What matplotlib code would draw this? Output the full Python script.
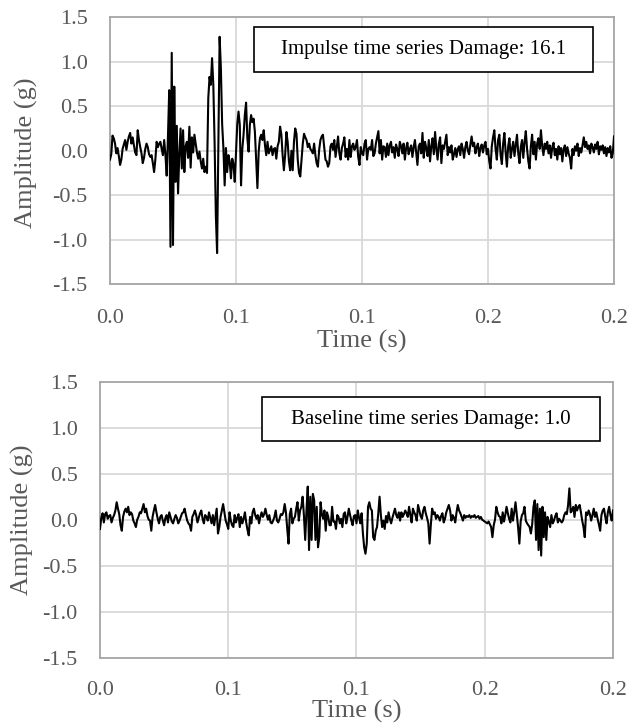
import matplotlib
matplotlib.use('Agg')
import matplotlib.pyplot as plt
import numpy as np
from matplotlib.patches import Rectangle

# ---------------- data ----------------
duration = 0.2  # seconds, both records

impulse_amp = [
    -0.10, -0.04, 0.17, 0.14, 0.08, -0.03, 0.03, -0.06, -0.16, -0.10,
    0.02, 0.07, 0.12, 0.01, 0.10, 0.16, 0.20, 0.08, 0.15, 0.06,
    -0.02, -0.05, 0.23, 0.12, 0.04, -0.03, -0.14, -0.08, 0.02, 0.08,
    0.04, -0.04, -0.07, -0.05, -0.14, -0.24, -0.10, 0.10, 0.04, 0.08,
    0.10, 0.02, -0.05, 0.12, -0.05, -0.28, 0.16,
    0.68, -1.08, 1.10, -1.06, 0.72, -0.35, 0.28, -0.48, -0.05,
    0.25, -0.20, 0.23, -0.24, 0.05, 0.10, -0.08, 0.27, -0.19, 0.15, -0.02,
    0.18, 0.08, -0.02, -0.09, -0.01, -0.12, -0.20, -0.09, -0.24, -0.18, -0.25,
    0.59, 0.83, 0.74, 1.04, 0.74, 0.10, -0.72, -1.15, 0.03, 1.28, 0.93,
    0.30, 0.03, -0.39, 0.03, -0.24, -0.05, -0.12, -0.31, -0.09, -0.15, -0.35,
    -0.01, 0.30, 0.44, 0.29, -0.39, 0.02, 0.18, 0.40, 0.54, 0.14, -0.01,
    0.29, 0.40, 0.32, 0.36, 0.21, -0.10, -0.42, -0.01, 0.14, 0.18, 0.12,
    0.23, 0.06, -0.05, 0.10, -0.03, 0.01, 0.05, -0.05, 0.02, 0.03, -0.09, 0.05,
    0.10, 0.27, 0.18, -0.05, -0.22, -0.05, 0.21, 0.10, -0.12, -0.22, 0.00, -0.22,
    0.10, 0.25, 0.19, -0.10, -0.25, -0.29, -0.10, 0.08, 0.19, 0.15, 0.12,
    0.04, 0.08, 0.02, 0.00, -0.03, 0.08, -0.05, -0.14, -0.18, 0.01, 0.12,
    0.16, 0.18, 0.04, -0.10, -0.12, -0.18, -0.14, 0.05, 0.08, 0.01, 0.12,
    -0.07, 0.05, 0.16, -0.03, -0.10, 0.03, 0.08, 0.15, -0.07, 0.02, -0.10,
    0.12, -0.07, 0.05, 0.08, 0.01, 0.04, 0.12, -0.07, -0.16, 0.04, -0.03,
    -0.05, 0.08, 0.12, -0.10, 0.02, 0.04, 0.01, 0.12, -0.06, -0.03,
    0.08, 0.15, 0.22, -0.03, 0.12, -0.10, 0.05, 0.04, -0.07, 0.08,
    -0.05, 0.06, 0.10, -0.02, 0.04, -0.08, 0.07, 0.02, -0.06, 0.10,
    0.05, -0.03, 0.08, -0.10, 0.03, 0.09, -0.04, 0.02, 0.06, -0.07,
    0.04, 0.12, -0.02, -0.16, 0.05, 0.08, -0.03, 0.20, -0.08, 0.10,
    0.03, -0.06, 0.12, -0.12, 0.05, 0.14, -0.04, 0.21, 0.02, -0.10,
    0.08, 0.15, -0.14, 0.06, 0.02, 0.10, 0.18, -0.05, 0.04, -0.02,
    0.06, -0.10, -0.04, 0.03, -0.07, 0.02, 0.05, -0.05, 0.08, 0.02,
    -0.08, 0.04, 0.10, 0.00, -0.04, 0.07, 0.16, 0.05, 0.09, -0.03,
    0.04, 0.08, -0.06, 0.03, 0.07, -0.02, 0.06, 0.10, -0.04, 0.02,
    -0.12, -0.20, 0.05, 0.15, 0.23, 0.02, -0.10, 0.12, 0.18, -0.05,
    -0.15, 0.08, 0.20, -0.02, -0.18, 0.05, 0.14, -0.08, 0.02, 0.10,
    -0.06, 0.06, 0.18, -0.03, -0.14, 0.04, 0.12, -0.08, 0.10, 0.22,
    0.02, -0.12, -0.20, 0.05, 0.18, -0.04, 0.10, -0.10, 0.08, 0.14,
    0.02, 0.23, 0.05, -0.05, 0.08, 0.02, 0.10, -0.03, 0.06, -0.08,
    0.04, 0.09, -0.05, 0.02, -0.10, 0.05, -0.04, 0.03, -0.12, 0.02,
    0.06, -0.06, 0.04, -0.03, -0.08, -0.20, 0.02, -0.05, 0.05, 0.00,
    0.08, -0.06, 0.03, -0.02, 0.06, 0.15, 0.04, 0.10, 0.02, 0.06,
    -0.03, 0.08, 0.04, -0.02, 0.07, 0.02, 0.10, -0.04, 0.05, 0.01,
    0.06, -0.03, 0.04, -0.06, 0.03, -0.02, 0.05, -0.08, -0.03, 0.16,
]

baseline_amp = [
    -0.10, 0.02, 0.07, -0.03, 0.06, 0.08, 0.01, 0.04, 0.05, -0.03,
    0.02, 0.05, 0.10, 0.19, 0.12, 0.06, -0.06, -0.12, 0.03, 0.09,
    0.12, 0.08, 0.14, 0.05, 0.08, 0.06, -0.01, -0.04, -0.08, 0.00,
    0.03, 0.08, 0.07, 0.12, 0.17, 0.08, 0.12, 0.04, 0.00, -0.01,
    -0.12, 0.03, 0.10, 0.16, 0.08, 0.01, -0.04, 0.03, 0.05, -0.01,
    -0.06, 0.02, 0.05, -0.03, 0.08, 0.03, -0.02, -0.04, 0.01, 0.05,
    0.02, -0.04, -0.01, 0.03, 0.07, 0.08, 0.12, 0.05, -0.01, -0.04,
    -0.06, -0.12, 0.03, 0.06, 0.10, 0.05, -0.03, 0.02, 0.07, 0.10,
    0.01, -0.04, 0.05, 0.03, -0.01, 0.08, 0.02, -0.04, 0.05, -0.06,
    0.03, 0.12, -0.15, -0.08, 0.03, 0.10, 0.17, 0.08, -0.01, -0.05,
    -0.10, 0.08, -0.01, -0.06, -0.08, 0.05, -0.03, 0.02, 0.06, -0.08,
    0.03, -0.04, 0.01, 0.08, -0.03, -0.11, -0.17, 0.03, -0.04, 0.08,
    0.12, 0.05, 0.01, 0.05, -0.04, 0.03, 0.08, 0.03, 0.06, 0.12,
    0.05, 0.00, 0.05, -0.03, -0.04, -0.01, 0.03, 0.10, -0.01, -0.03,
    0.01, 0.06, 0.05, 0.08, 0.17, 0.08, -0.10, -0.26, 0.06, 0.12,
    -0.04, 0.01, 0.03, 0.12, 0.19, -0.01, 0.10, 0.14, 0.25, 0.05,
    -0.22, 0.10, 0.36, -0.33, 0.25, -0.22, 0.28, 0.21, -0.22, 0.14,
    -0.30, -0.19, 0.19, 0.06, 0.01, 0.10, -0.12, 0.08, 0.03, -0.06,
    -0.06, 0.14, -0.02, -0.02, -0.10, 0.05, 0.03, -0.04, 0.01, -0.08,
    0.06, 0.08, -0.04, 0.03, 0.12, 0.05, -0.01, -0.06, 0.04, 0.05,
    -0.04, 0.10, 0.02, -0.04, 0.07, -0.15, -0.30, -0.37, -0.26, 0.14,
    0.19, 0.12, 0.10, -0.19, -0.22, -0.12, -0.08, 0.07, 0.25, 0.05,
    -0.08, -0.01, -0.10, 0.04, -0.03, 0.08, 0.01, -0.04, 0.02, 0.07,
    0.12, 0.05, 0.02, 0.08, -0.01, 0.08, 0.03, 0.06, 0.10, 0.07,
    0.03, 0.14, 0.05, -0.03, 0.12, 0.08, 0.05, -0.01, 0.16, 0.10,
    0.04, 0.01, 0.10, 0.14, 0.07, 0.02, -0.04, -0.26, -0.05, 0.12,
    0.06, 0.08, 0.01, 0.05, 0.03, -0.01, 0.04, 0.07, -0.03, 0.01,
    0.08, 0.12, 0.16, 0.10, -0.01, 0.05, 0.02, -0.03, 0.08, 0.16,
    0.10, 0.07, 0.03, -0.01, 0.05, 0.02, 0.04, 0.03, 0.05, 0.02,
    0.04, 0.03, 0.05, 0.02, 0.03, 0.04, 0.01, 0.03, 0.00, -0.01,
    -0.02, -0.03, -0.04, -0.02, -0.05, -0.08, -0.19, -0.06, 0.00, 0.14,
    0.08, 0.04, 0.03, -0.04, 0.08, -0.02, 0.05, 0.14, 0.07, 0.01,
    -0.03, 0.12, -0.01, 0.08, 0.19, 0.05, -0.08, -0.26, -0.02, 0.05,
    0.07, 0.14, -0.01, -0.04, -0.06, -0.08, -0.15, -0.05, 0.14, 0.21,
    -0.22, 0.17, -0.33, 0.12, -0.39, 0.14, -0.19, 0.08, -0.22, 0.03,
    -0.02, -0.08, 0.05, -0.04, -0.01, 0.04, 0.07, -0.03, 0.01, -0.01,
    -0.03, -0.01, 0.05, 0.08, 0.06, 0.16, 0.34, 0.08, 0.10, 0.14,
    0.03, 0.16, 0.10, 0.14, 0.16, 0.08, -0.01, -0.08, -0.19, 0.08,
    0.05, 0.10, 0.06, -0.01, 0.05, 0.12, 0.03, 0.08, 0.01, -0.05,
    -0.12, 0.05, 0.10, 0.12, 0.03, -0.04, 0.08, 0.14, 0.05, -0.01, 0.10,
]

x_ticks = [0.0, 0.05, 0.10, 0.15, 0.20]
x_tick_labels = ['0.0', '0.1', '0.1', '0.2', '0.2']
y_ticks = [-1.5, -1.0, -0.5, 0.0, 0.5, 1.0, 1.5]
y_tick_labels = ['-1.5', '-1.0', '-0.5', '0.0', '0.5', '1.0', '1.5']
box_labels = ['Impulse time series Damage: 16.1', 'Baseline time series Damage: 1.0']
x_label = 'Time (s)'
y_label = 'Amplitude (g)'

# ---------------- style ----------------
plt.rcParams['font.family'] = ['Liberation Serif', 'DejaVu Serif']
GRAY_TXT = '#595959'

fig = plt.figure(figsize=(6.41, 7.23), dpi=100)
ax1 = fig.add_axes([0.1716, 0.6069, 0.7863, 0.3693])
ax2 = fig.add_axes([0.1560, 0.0903, 0.8003, 0.3818])

settings = [
    (ax1, impulse_amp, box_labels[0], (0.286, 0.794, 0.672, 0.170), (-0.166, 0.493), (0.5, -0.213), 18),
    (ax2, baseline_amp, box_labels[1], (0.315, 0.785, 0.660, 0.158), (-0.151, 0.499), (0.5, -0.194), 16.5),
]

for ax, amp, lab, box, ylc, xlc, xpad in settings:
    t = np.linspace(0, duration, len(amp))
    ax.plot(t, amp, color='black', lw=1.5, zorder=3)
    ax.set_xlim(0, duration)
    ax.set_ylim(-1.5, 1.5)
    ax.set_xticks(x_ticks, x_tick_labels)
    ax.set_yticks(y_ticks, y_tick_labels)
    ax.grid(True, color='#d9d9d9', lw=1.3)
    ax.set_axisbelow(True)
    for s in ax.spines.values():
        s.set_color('#a6a6a6')
        s.set_linewidth(1.3)
    ax.tick_params(axis='both', length=0, labelsize=16, labelcolor=GRAY_TXT)
    ax.tick_params(axis='x', pad=xpad)
    ax.tick_params(axis='y', pad=16)
    ax.set_xlabel(x_label, fontsize=19, color=GRAY_TXT)
    ax.set_ylabel(y_label, fontsize=19, color=GRAY_TXT)
    ax.xaxis.set_label_coords(*xlc)
    ax.yaxis.set_label_coords(*ylc)
    ax.xaxis.label.set_verticalalignment('center')
    ax.yaxis.label.set_verticalalignment('center')
    x0, y0, w, h = box
    ax.add_patch(Rectangle((x0, y0), w, h, transform=ax.transAxes,
                           facecolor='white', edgecolor='black', lw=1.2, zorder=5))
    ax.text(x0 + w / 2, y0 + h / 2, lab, transform=ax.transAxes,
            ha='center', va='center', fontsize=15, color='black', zorder=6)

fig.savefig('out.png', dpi=100)
